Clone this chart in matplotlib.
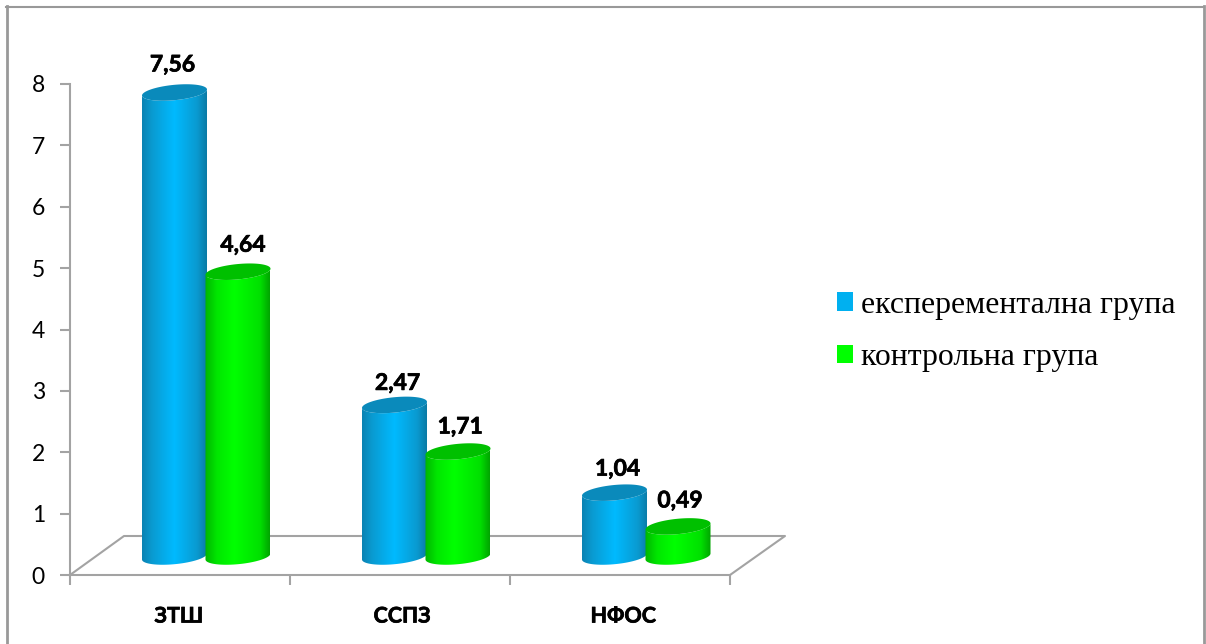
import numpy as np
import matplotlib
matplotlib.use('Agg')
import matplotlib.pyplot as plt
from matplotlib.lines import Line2D
from matplotlib.patches import Patch, PathPatch, Polygon
from matplotlib.path import Path
from matplotlib.colors import LinearSegmentedColormap
import matplotlib.patheffects as pe

categories = ['ЗТШ', 'ССПЗ', 'НФОС']
series_names = ['експерементална група', 'контрольна група']
exp_values = [7.56, 2.47, 1.04]
ctrl_values = [4.64, 1.71, 0.49]
exp_labels = ['7,56', '2,47', '1,04']
ctrl_labels = ['4,64', '1,71', '0,49']
yticks = [0, 1, 2, 3, 4, 5, 6, 7, 8]

W, H = 1206, 644
AX_L, AX_R, AX_T, AX_B = 70, 730, 84, 575
GREY = '#a3a3a3'

# size of one x unit and one y unit in pixels
px_x = (AX_R - AX_L) / 3
px_y = (AX_B - AX_T) / 8

# depth of the floor
depth_x = 54 / px_x
depth_y = 39 / px_y
base = 18.5 / px_y

bar_w = 65 / px_x
ell_b = 7.7 / px_y
ell_c = 3.0 / px_y

# label shifts in pixels
exp_shift = [(-2, 27.5), (3, 21.5), (3, 23.5)]
ctrl_shift = [(5, 26.5), (2, 24.5), (2, 25.5)]
cat_pos = [0.495, 1.51, 2.515]

blue_map = LinearSegmentedColormap.from_list('b', [(0, '#0a82b2'), (0.15, '#0a9ad0'), (0.5, '#00baff'), (0.85, '#0a9ad0'), (1, '#0a7aa5')])
green_map = LinearSegmentedColormap.from_list('g', [(0, '#00b400'), (0.18, '#00e600'), (0.45, '#00ff00'), (0.85, '#00e000'), (1, '#00a400')])


def rim(cx, cy, t):
    # slanted ellipse, right side sits higher than the left
    return cx + bar_w / 2 * np.cos(t), cy + ell_b * np.sin(t) + ell_c * np.cos(t)


def cylinder(ax, cx, val, cmap, top_col, z):
    t = np.linspace(0, 2 * np.pi, 121)
    top = base + val
    # body: top rim's back half is covered by the cap, bottom rim goes below the base
    tb = np.linspace(np.pi, 2 * np.pi, 60)
    xb, yb = rim(cx, base, tb)
    xt, yt = rim(cx, top, tb[::-1])
    verts = np.vstack([np.column_stack([xb, yb]), np.column_stack([xt, yt]), [[xb[0], yb[0]]]])
    codes = [Path.MOVETO] + [Path.LINETO] * (len(verts) - 2) + [Path.CLOSEPOLY]
    shape = PathPatch(Path(verts, codes), fc='none', ec='none', transform=ax.transData)
    ax.add_patch(shape)
    grad = np.linspace(0, 1, 256).reshape(1, -1)
    im = ax.imshow(grad, cmap=cmap, aspect='auto', interpolation='bilinear', zorder=z,
                   extent=[cx - bar_w / 2, cx + bar_w / 2, yb.min(), yt.max() + ell_b],
                   clip_on=True)
    im.set_clip_path(shape)
    xc, yc = rim(cx, top, t)
    ax.add_patch(Polygon(np.column_stack([xc, yc]), closed=True, fc=top_col, ec='none', zorder=z + 0.1, clip_on=False))


def bar_label(ax, txt, x, y, shift):
    ax.annotate(txt, (x, y), xytext=(shift[0] * 0.72, shift[1] * 0.72), textcoords='offset points',
                ha='center', va='center', fontsize=16.5, fontweight='bold', family='Lato', color='black', zorder=20,
                path_effects=[pe.withStroke(linewidth=0.5, foreground='black')])


fig = plt.figure(figsize=(W / 100, H / 100), dpi=100)
ax = fig.add_axes([AX_L / W, 1 - AX_B / H, (AX_R - AX_L) / W, (AX_B - AX_T) / H])
ax.patch.set_alpha(0)

# floor outline behind the bars
ax.plot([0, depth_x, 3 + 55 / px_x, 3], [0, depth_y, depth_y, 0], color=GREY, lw=1.5, clip_on=False, zorder=1)

x_pos = np.arange(len(categories))
for i in x_pos:
    cx_e = i + 104.5 / px_x
    cx_c = i + 168 / px_x
    cylinder(ax, cx_e, exp_values[i], blue_map, '#0a8abb', 2 + i * 2)
    cylinder(ax, cx_c, ctrl_values[i], green_map, '#00c000', 3 + i * 2)
    bar_label(ax, exp_labels[i], cx_e, base + exp_values[i], exp_shift[i])
    bar_label(ax, ctrl_labels[i], cx_c, base + ctrl_values[i], ctrl_shift[i])

ax.set_xlim(0, 3)
ax.set_ylim(0, 8)
ax.set_xticks([0, 1, 2, 3])
ax.set_xticklabels([])
ax.set_xticks(cat_pos, categories, minor=True, fontsize=15.5, fontweight='bold', family='Lato',
              path_effects=[pe.withStroke(linewidth=0.5, foreground='black')])
ax.tick_params(axis='x', which='minor', length=0, pad=22)
ax.tick_params(axis='x', which='major', length=7, width=1.5, color=GREY)
ax.set_yticks(yticks)
ax.tick_params(axis='y', length=7, width=1.5, color=GREY, pad=11)
for lab in ax.get_yticklabels():
    lab.set_fontsize(16.5)
    lab.set_family('Lato')
for s in ['top', 'right']:
    ax.spines[s].set_visible(False)
for s in ['left', 'bottom']:
    ax.spines[s].set_color(GREY)
    ax.spines[s].set_linewidth(1.5)

handles = [Patch(fc='#00b0f0', ec='none'), Patch(fc='#00ff00', ec='none')]
fig.legend(handles, series_names, loc='center left', bbox_to_anchor=(837 / W, 1 - 331.5 / H), frameon=False,
           prop={'family': 'Liberation Serif', 'size': 22.9}, handlelength=0.5, handleheight=0.5,
           handletextpad=0.25, labelspacing=0.74, borderpad=0, borderaxespad=0)

# outer chart frame, open at the bottom
fig.add_artist(Line2D([6.5 / W, 6.5 / W], [0, 1 - 6 / H], color='#999999', lw=2))
fig.add_artist(Line2D([6 / W, 1204 / W], [1 - 6.5 / H, 1 - 6.5 / H], color='#999999', lw=1.5))
fig.add_artist(Line2D([1204 / W, 1204 / W], [0, 1 - 6 / H], color='#999999', lw=2))

fig.savefig('out.png', dpi=100)
